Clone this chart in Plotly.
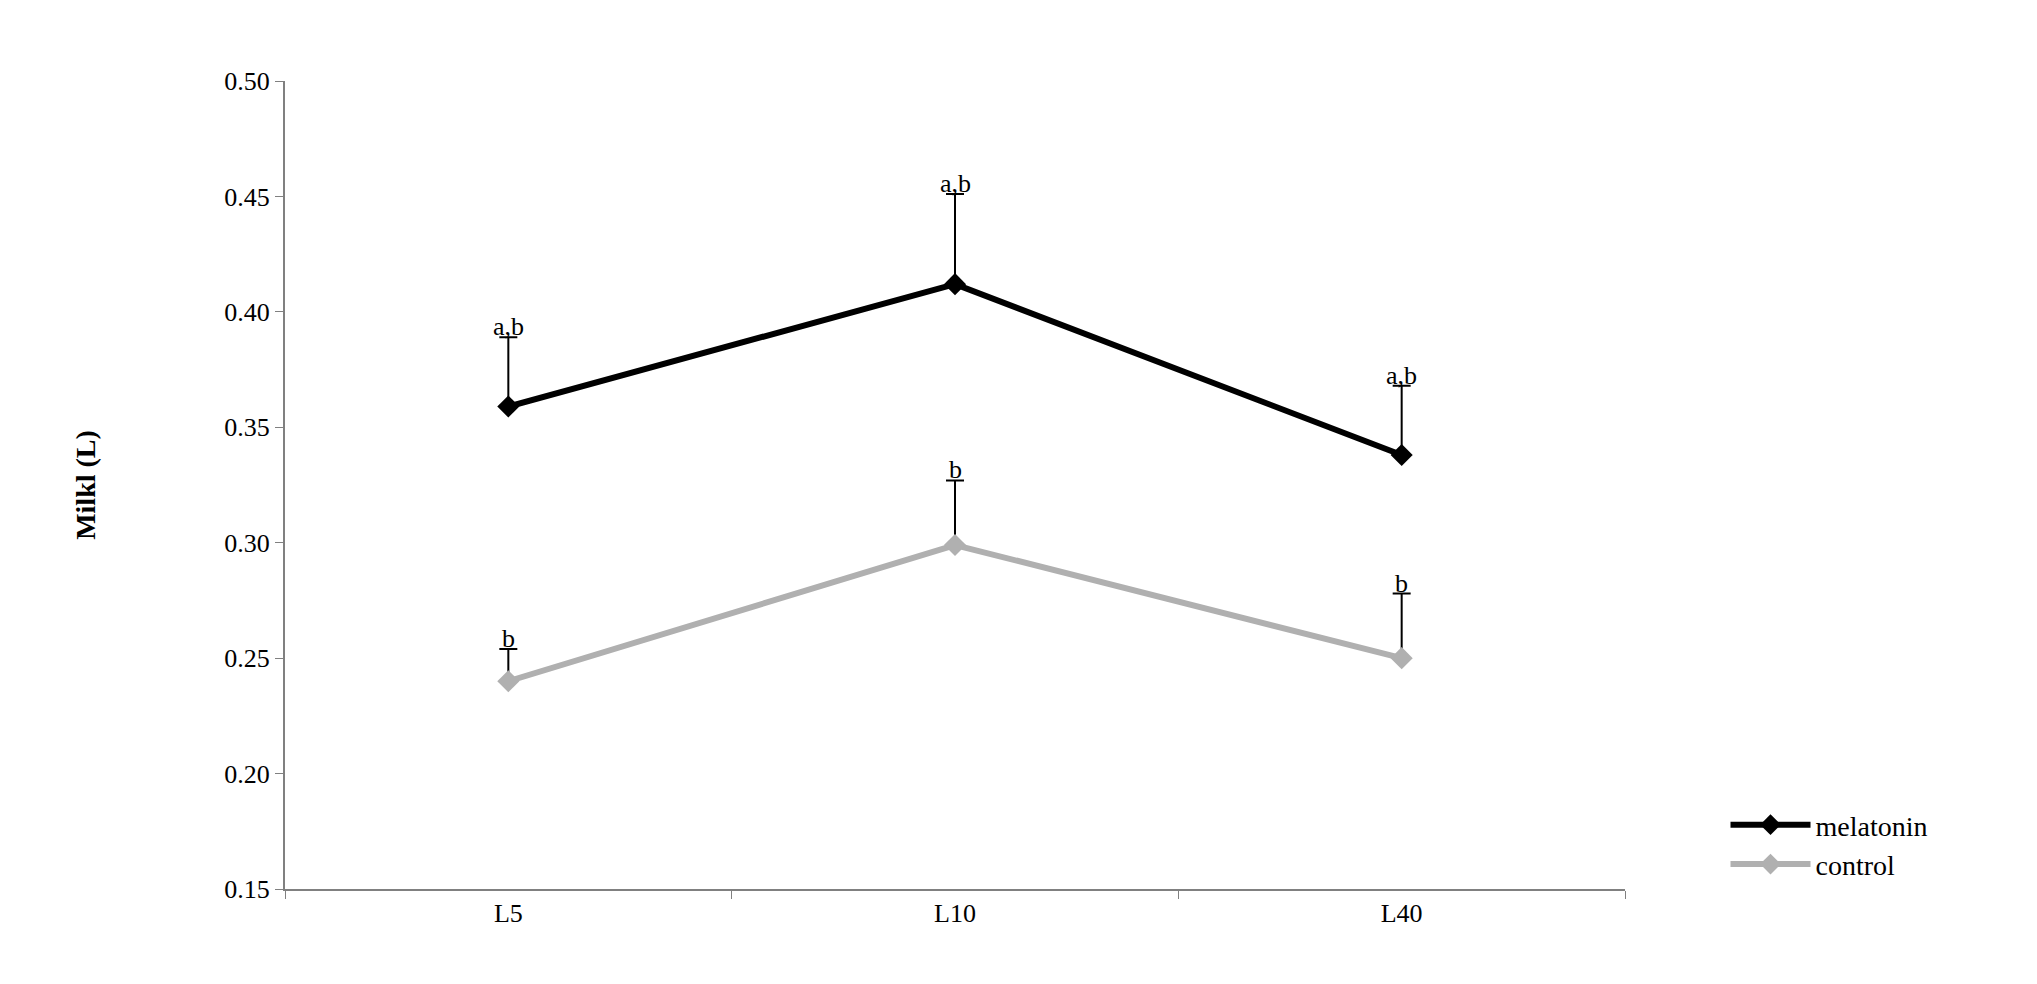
import plotly.graph_objects as go

categories = ["L5", "L10", "L40"]
melatonin = [0.359, 0.412, 0.338]
melatonin_err = [0.030, 0.039, 0.030]
control = [0.240, 0.299, 0.250]
control_err = [0.014, 0.028, 0.028]
mel_labels = ["a,b", "a,b", "a,b"]
ctl_labels = ["b", "b", "b"]

font = "Liberation Serif"
fig = go.Figure()
fig.add_trace(go.Scatter(x=categories, y=melatonin, mode="lines+markers", name="melatonin",
    line=dict(color="black", width=6), marker=dict(symbol="diamond", size=17, color="black"),
    error_y=dict(type="data", symmetric=False, array=melatonin_err, arrayminus=[0]*3,
                 color="black", thickness=2, width=9)))
fig.add_trace(go.Scatter(x=categories, y=control, mode="lines+markers", name="control",
    line=dict(color="#b0b0b0", width=6), marker=dict(symbol="diamond", size=17, color="#b0b0b0"),
    error_y=dict(type="data", symmetric=False, array=control_err, arrayminus=[0]*3,
                 color="black", thickness=2, width=9)))
for c, v, e, t in zip(categories, melatonin, melatonin_err, mel_labels):
    fig.add_annotation(x=c, y=v+e, text=t, showarrow=False, yanchor="bottom", yshift=-6,
                       font=dict(family=font, size=26, color="black"))
for c, v, e, t in zip(categories, control, control_err, ctl_labels):
    fig.add_annotation(x=c, y=v+e, text=t, showarrow=False, yanchor="bottom", yshift=-6,
                       font=dict(family=font, size=26, color="black"))

fig.update_layout(
    width=2037, height=984, paper_bgcolor="white", plot_bgcolor="white",
    margin=dict(l=277, r=420, t=73, b=103),
    font=dict(family=font, size=26, color="black"),
    legend=dict(x=1.075, y=0.0, xanchor="left", yanchor="bottom",
                font=dict(family=font, size=28), tracegroupgap=40, itemwidth=80),
    xaxis=dict(range=[-0.5, 2.5], showline=True, linecolor="#808080", linewidth=2,
               ticks="outside", tickcolor="#808080", ticklen=8, tickson="boundaries",
               showgrid=False, tickfont=dict(size=26)),
    yaxis=dict(range=[0.15, 0.50], dtick=0.05, tickformat=".2f", showline=True,
               linecolor="#808080", linewidth=2, ticks="outside", tickcolor="#808080",
               ticklen=8, showgrid=False, zeroline=False, tickfont=dict(size=26),
               title=dict(text="<b>Milkl (L)</b>", font=dict(size=28), standoff=120)),
)
fig.write_html("out.html")
